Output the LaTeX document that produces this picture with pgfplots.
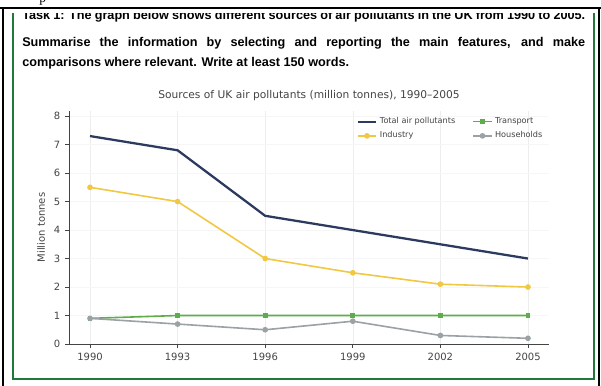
\documentclass[border=0pt]{standalone}
\usepackage{pgfplots}
\pgfplotsset{compat=1.18}
\usepackage{fontspec}
\setmainfont{DejaVu Sans}
\newfontfamily\taskfont{Liberation Sans}
\newfontfamily\seriffont{Liberation Serif}
\definecolor{cTotal}{HTML}{2B3A5E}
\definecolor{cInd}{HTML}{F2C843}
\definecolor{cTr}{HTML}{5DAE4B}
\definecolor{cHh}{HTML}{9AA2A5}
\definecolor{cFrame}{HTML}{1F7A3A}
\definecolor{cTxt}{HTML}{444444}
\begin{document}
\begin{tikzpicture}
\useasboundingbox (0,0) rectangle (450.75pt,-289.5pt);
\fill[white] (0,0) rectangle (450.75pt,-289.5pt);
\begin{scope}[x=0.75pt,y=-0.75pt]
  % outer black frame
  \draw[black,line width=0.8pt] (0,8) -- (601,8);
  \draw[black,line width=0.8pt] (3,8) -- (3,386);
  \draw[black,line width=0.8pt] (599,8) -- (599,386);
  % partial p from above
  \begin{scope}
    \clip (0,0) rectangle (601,7);
    \node[anchor=base west,inner sep=0pt,font=\seriffont\fontsize{10}{12}\selectfont] at (39,2) {p};
  \end{scope}
  % green frame
  \draw[cFrame,line width=1.9pt] (13,13) -- (13,379) -- (594,379) -- (594,13);
  % task text
  \begin{scope}[every node/.style={anchor=base west,inner sep=0pt,font=\taskfont\bfseries\fontsize{9.5}{12}\selectfont}]
    \begin{scope}
      \clip (14,13.5) rectangle (593,40);
      \node at (22,19) {\makebox[422.25pt][s]{Task 1: The graph below shows different sources of air pollutants in the UK from 1990 to 2005.}};
    \end{scope}
    \node at (22,46) {\makebox[422.25pt][s]{Summarise the information by selecting and reporting the main features, and make}};
    \node at (22,66) {comparisons where relevant. Write at least 150 words.};
  \end{scope}
  \node[font=\fontsize{8}{10}\selectfont, text=cTxt, inner sep=0pt] at (309,96) {Sources of UK air pollutants (million tonnes), 1990--2005};
\end{scope}
\begin{axis}[
  at={(51.75pt,-258pt)}, anchor=origin,
  scale only axis, width=360pt, height=174.75pt,
  xmin=1989.28, xmax=2005.72, ymin=0, ymax=8.18,
  xtick={1990,1993,1996,1999,2002,2005},
  ytick={0,1,2,3,4,5,6,7,8},
  x tick label style={/pgf/number format/1000 sep={}},
  /pgf/number format/assume math mode=true,
  tick label style={font=\fontsize{7.5}{9}\selectfont, text=cTxt},
  axis x line*=bottom, axis y line*=left,
  axis line style={draw=cTxt, line width=0.6pt},
  tick style={draw=cTxt, line width=0.5pt},
  tick align=outside, major tick length=3pt,
  xmajorgrids, ymajorgrids,
  x grid style={draw=gray!14, line width=0.4pt},
  y grid style={draw=gray!7, line width=0.4pt},
  ylabel={Million tonnes},
  ylabel style={font=\fontsize{7.5}{9}\selectfont, text=cTxt, at={(axis description cs:-0.04,0.5)}, anchor=south},
  legend columns=2,
  legend style={draw=none, fill=none, font=\fontsize{6.1}{7.5}\selectfont, text=cTxt,
    at={(axis description cs:0.995,0.99)}, anchor=north east, inner sep=1pt,
    /tikz/every even column/.append style={column sep=11pt}, row sep=0.5pt},
  legend cell align=left,
  legend image code/.code={\draw[mark repeat=2,mark phase=2] plot coordinates {(0cm,0cm)(0.24cm,0cm)(0.48cm,0cm)};},
  every axis plot/.append style={line width=1.2pt},
  clip=false,
]
\addplot[cTotal, line width=1.7pt] coordinates {(1990,7.3)(1993,6.8)(1996,4.5)(1999,4.0)(2002,3.5)(2005,3.0)};
\addlegendentry{Total air pollutants}
\addplot[cTr, mark=square*, mark size=1.2pt] coordinates {(1990,0.9)(1993,1.0)(1996,1.0)(1999,1.0)(2002,1.0)(2005,1.0)};
\addlegendentry{Transport}
\addplot[cInd, mark=*, mark size=1.5pt] coordinates {(1990,5.5)(1993,5.0)(1996,3.0)(1999,2.5)(2002,2.1)(2005,2.0)};
\addlegendentry{Industry}
\addplot[cHh, mark=*, mark size=1.5pt] coordinates {(1990,0.9)(1993,0.7)(1996,0.5)(1999,0.8)(2002,0.3)(2005,0.2)};
\addlegendentry{Households}
\end{axis}
\end{tikzpicture}
\end{document}
